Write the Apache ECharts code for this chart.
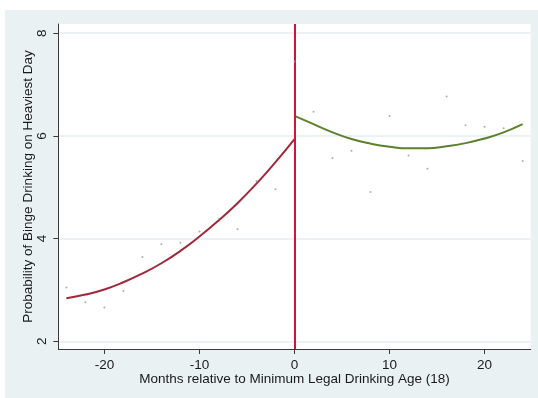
<!DOCTYPE html>
<html>
<head>
<meta charset="utf-8">
<script src="https://cdn.jsdelivr.net/npm/echarts@6/dist/echarts.min.js"></script>
<style>
  html, body { margin: 0; padding: 0; background: #ffffff; }
  #chart { width: 538px; height: 398px; }
</style>
</head>
<body>
<div id="chart"></div>
<script>
// Monthly bins relative to the minimum legal drinking age
const months = [-24, -22, -20, -18, -16, -14, -12, -10, -8, -6, -4, -2, 0,
                2, 4, 6, 8, 10, 12, 14, 16, 18, 20, 22, 24];
// Binned mean probability of binge drinking on the heaviest day
const bingeMeans = [3.05, 2.76, 2.66, 2.98, 3.64, 3.89, 3.92, 4.14, 4.38, 4.18, 5.12, 4.96, 7.45,
                    6.47, 5.57, 5.71, 4.91, 6.39, 5.62, 5.36, 6.77, 6.21, 6.18, 6.15, 5.51];

// Fitted curve below the threshold
const fitLeftMonths = [-24, -22, -20, -18, -16, -14, -12, -10, -8, -6, -4, -2, 0];
const fitLeftValues = [2.84, 2.91, 3.01, 3.15, 3.32, 3.52, 3.76, 4.04, 4.35, 4.69, 5.07, 5.49, 5.94];

// Fitted curve above the threshold
const fitRightMonths = [0, 2, 4, 6, 8, 10, 12, 14, 16, 18, 20, 22, 24];
const fitRightValues = [6.39, 6.23, 6.07, 5.94, 5.85, 5.79, 5.76, 5.76, 5.80, 5.86, 5.95, 6.07, 6.23];

const xTicks = [-20, -10, 0, 10, 20];
const yTicks = [2, 4, 6, 8];
const threshold = 0;

const pairs = (xs, ys) => xs.map((x, i) => [x, ys[i]]);

const FONT = "'Liberation Sans', Arial, sans-serif";
const chart = echarts.init(document.getElementById('chart'), null, { renderer: 'canvas' });

chart.setOption({
  backgroundColor: '#ffffff',
  animation: false,
  graphic: [{
    type: 'rect',
    z: -10,
    silent: true,
    shape: { x: 5, y: 10, width: 533, height: 388 },
    style: { fill: '#eaf1f3' }
  }],
  grid: {
    left: 58.3, right: 7.3, top: 24, bottom: 49,
    show: true, backgroundColor: '#ffffff', borderWidth: 0
  },
  xAxis: {
    type: 'value',
    min: -24.85, max: 24.85,
    name: 'Months relative to Minimum Legal Drinking Age (18)',
    nameLocation: 'middle',
    nameGap: 23,
    nameMoveOverlap: false,
    nameTextStyle: { fontFamily: FONT, fontSize: 13.5, color: '#1a1a1a' },
    axisLine: { show: true, onZero: false, lineStyle: { color: '#3a3a3a', width: 1 } },
    axisTick: { show: true, customValues: xTicks, length: 5, lineStyle: { color: '#3a3a3a' } },
    axisLabel: { customValues: xTicks, margin: 9, fontFamily: FONT, fontSize: 13.5, color: '#1a1a1a' },
    splitLine: { show: false }
  },
  yAxis: {
    type: 'value',
    min: 1.85, max: 8.18,
    name: 'Probability of Binge Drinking on Heaviest Day',
    nameLocation: 'middle',
    nameGap: 23,
    nameMoveOverlap: false,
    nameTextStyle: { fontFamily: FONT, fontSize: 13.5, color: '#1a1a1a' },
    axisLine: { show: true, onZero: false, lineStyle: { color: '#3a3a3a', width: 1 } },
    axisTick: { show: true, customValues: yTicks, length: 5, lineStyle: { color: '#3a3a3a' } },
    axisLabel: { customValues: yTicks, rotate: 90, margin: 9, fontFamily: FONT, fontSize: 13.5, color: '#1a1a1a' },
    splitLine: { show: true, lineStyle: { color: '#e6eef0', width: 1.5 } }
  },
  series: [
    {
      name: 'means',
      type: 'scatter',
      data: pairs(months, bingeMeans),
      symbol: 'circle',
      symbolSize: 2,
      itemStyle: { color: '#9a9a9a' },
      z: 5
    },
    {
      name: 'fit below',
      type: 'line',
      data: pairs(fitLeftMonths, fitLeftValues),
      smooth: true,
      showSymbol: false,
      lineStyle: { color: '#a0283a', width: 2 },
      z: 3
    },
    {
      name: 'fit above',
      type: 'line',
      data: pairs(fitRightMonths, fitRightValues),
      smooth: true,
      showSymbol: false,
      lineStyle: { color: '#5d7f2e', width: 2 },
      z: 3,
      markLine: {
        silent: true,
        symbol: 'none',
        label: { show: false },
        lineStyle: { color: '#d4123c', width: 2, type: 'solid' },
        data: [{ xAxis: threshold }]
      }
    }
  ]
});
</script>
</body>
</html>
